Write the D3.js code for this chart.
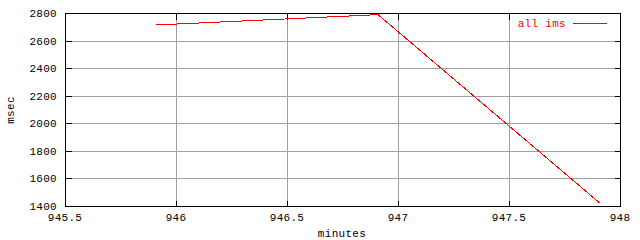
<!DOCTYPE html>
<html>
<head>
<meta charset="utf-8">
<script src="https://cdn.jsdelivr.net/npm/d3@7"></script>
<style>
  body { margin: 0; background: #fff; }
  text { font-family: "Liberation Mono", "DejaVu Sans Mono", monospace; font-size: 11px; letter-spacing: 0.3px; }
</style>
</head>
<body>
<svg id="chart" width="640" height="240"></svg>
<script>
// data
var minutes = [945.91, 946.91, 947.91];
var msec = [2713, 2788, 1420];
var xTicks = [945.5, 946, 946.5, 947, 947.5, 948];
var yTicks = [1400, 1600, 1800, 2000, 2200, 2400, 2600, 2800];
var seriesName = "all ims";

var points = minutes.map(function (m, i) { return { x: m, y: msec[i] }; });

// plot box (note: "top" is reserved on window, so use other names)
var plotLeft = 65, plotRight = 620, plotTop = 13, plotBottom = 206;

var svg = d3.select("#chart");

var x = d3.scaleLinear().domain([945.5, 948]).range([plotLeft, plotRight]);
var y = d3.scaleLinear().domain([1400, 2800]).range([plotBottom, plotTop]);

// grid lines
svg.append("g").selectAll("line")
  .data(xTicks.slice(1, -1))
  .enter().append("line")
  .attr("x1", function (d) { return Math.round(x(d)) + 0.5; })
  .attr("x2", function (d) { return Math.round(x(d)) + 0.5; })
  .attr("y1", plotTop).attr("y2", plotBottom)
  .style("stroke", "#a0a0a0");

svg.append("g").selectAll("line")
  .data(yTicks.slice(1, -1))
  .enter().append("line")
  .attr("x1", plotLeft).attr("x2", plotRight)
  .attr("y1", function (d) { return Math.round(y(d)) + 0.5; })
  .attr("y2", function (d) { return Math.round(y(d)) + 0.5; })
  .style("stroke", "#a0a0a0");

// axes, ticks pointing inward, mirrored
function noDomain(g) { g.select(".domain").remove(); }

svg.append("g")
  .attr("transform", "translate(0," + (plotBottom + 0.5) + ")")
  .call(d3.axisTop(x).tickValues(xTicks).tickSize(6).tickFormat(""))
  .call(noDomain);
svg.append("g")
  .attr("transform", "translate(0," + (plotTop + 0.5) + ")")
  .call(d3.axisBottom(x).tickValues(xTicks).tickSize(6).tickFormat(""))
  .call(noDomain);
svg.append("g")
  .attr("transform", "translate(" + (plotLeft + 0.5) + ",0)")
  .call(d3.axisRight(y).tickValues(yTicks).tickSize(6).tickFormat(""))
  .call(noDomain);
svg.append("g")
  .attr("transform", "translate(" + (plotRight + 0.5) + ",0)")
  .call(d3.axisLeft(y).tickValues(yTicks).tickSize(6).tickFormat(""))
  .call(noDomain);

svg.selectAll(".tick line").style("stroke", "#000").attr("shape-rendering", "crispEdges");

// frame
svg.append("rect")
  .attr("x", plotLeft + 0.5).attr("y", plotTop + 0.5)
  .attr("width", plotRight - plotLeft).attr("height", plotBottom - plotTop)
  .style("fill", "none").style("stroke", "#000");

// tick labels
svg.append("g").selectAll("text")
  .data(xTicks)
  .enter().append("text")
  .attr("x", function (d) { return x(d); })
  .attr("y", 221)
  .attr("text-anchor", "middle")
  .text(function (d) { return d; });

svg.append("g").selectAll("text")
  .data(yTicks)
  .enter().append("text")
  .attr("x", 57)
  .attr("y", function (d) { return y(d) + 4; })
  .attr("text-anchor", "end")
  .text(function (d) { return d; });

// axis titles
svg.append("text")
  .attr("x", 342).attr("y", 237)
  .attr("text-anchor", "middle")
  .text("minutes");

svg.append("text")
  .attr("transform", "translate(14,110) rotate(-90)")
  .attr("text-anchor", "middle")
  .text("msec");

// series line
var line = d3.line()
  .x(function (d) { return x(d.x); })
  .y(function (d) { return y(d.y); });

svg.append("path")
  .datum(points)
  .attr("d", line)
  .attr("shape-rendering", "crispEdges")
  .style("stroke", "red")
  .style("fill", "none");

// legend
svg.append("text")
  .attr("x", 566).attr("y", 27)
  .attr("text-anchor", "end")
  .style("fill", "red")
  .text(seriesName);
svg.append("line")
  .attr("x1", 573).attr("x2", 607)
  .attr("y1", 23.5).attr("y2", 23.5)
  .style("stroke", "red");
</script>
</body>
</html>
